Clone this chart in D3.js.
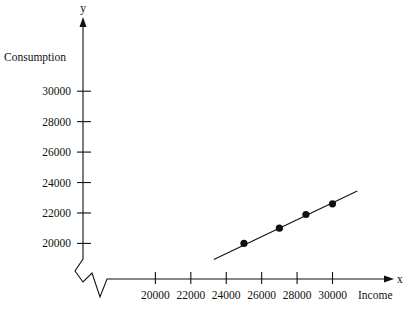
<!DOCTYPE html>
<html lang="en">
<head>
    <meta charset="UTF-8">
    <script src="https://d3js.org/d3.v7.min.js"></script>
    <title>Consumption vs Income</title>
    <style>
        body { margin: 0; background: #fff; }
        text { font-family: "Liberation Serif", "Times New Roman", serif; font-size: 11.5px; fill: #111; }
    </style>
</head>
<body>
    <svg width="420" height="324" id="chart" xmlns="http://www.w3.org/2000/svg"></svg>
    <script type="text/javascript">
      // data
      var incomeTicks = [20000, 22000, 24000, 26000, 28000, 30000];
      var consumptionTicks = [20000, 22000, 24000, 26000, 28000, 30000];
      var income = [25000, 27000, 28500, 30000];
      var consumption = [20000, 21000, 21900, 22600];
      var lineIncome = [23300, 31400];
      var lineConsumption = [18950, 23450];

      var svg = d3.select("#chart");
      var x = d3.scaleLinear().domain([20000, 30000]).range([155.4, 332.5]);
      var y = d3.scaleLinear().domain([20000, 30000]).range([243.4, 91.2]);

      var ox = 83, oy = 279;

      // y axis with break
      svg.append("path")
        .attr("d", "M" + ox + ",26 L" + ox + ",259 L75,271 L83,282 L92,273 L100,297 L107,279 L386," + oy)
        .attr("fill", "none").attr("stroke", "#111").attr("stroke-width", 1.1);
      svg.append("path").attr("d", "M" + ox + ",17 L" + (ox - 3.5) + ",27 L" + (ox + 3.5) + ",27 Z").attr("fill", "#111");
      svg.append("path").attr("d", "M394," + oy + " L384," + (oy - 3.5) + " L384," + (oy + 3.5) + " Z").attr("fill", "#111");

      // y ticks
      var yt = svg.append("g");
      yt.selectAll("line").data(consumptionTicks).join("line")
        .attr("x1", ox - 6).attr("x2", ox + 8)
        .attr("y1", d => y(d)).attr("y2", d => y(d))
        .attr("stroke", "#111").attr("stroke-width", 1.1);
      yt.selectAll("text").data(consumptionTicks).join("text")
        .attr("x", 71).attr("y", d => y(d)).attr("dy", "0.35em")
        .attr("text-anchor", "end").text(d => d);

      // x ticks
      var xt = svg.append("g");
      xt.selectAll("line").data(incomeTicks).join("line")
        .attr("x1", d => x(d)).attr("x2", d => x(d))
        .attr("y1", oy - 7).attr("y2", oy + 5)
        .attr("stroke", "#111").attr("stroke-width", 1.1);
      xt.selectAll("text").data(incomeTicks).join("text")
        .attr("x", d => x(d)).attr("y", 299)
        .attr("text-anchor", "middle").text(d => d);

      // labels
      svg.append("text").attr("x", ox).attr("y", 12).attr("text-anchor", "middle").text("y");
      svg.append("text").attr("x", 4).attr("y", 61).text("Consumption");
      svg.append("text").attr("x", 397).attr("y", 283).text("x");
      svg.append("text").attr("x", 358).attr("y", 299).text("Income");

      // consumption line and points
      svg.append("line")
        .attr("x1", x(lineIncome[0])).attr("y1", y(lineConsumption[0]))
        .attr("x2", x(lineIncome[1])).attr("y2", y(lineConsumption[1]))
        .attr("stroke", "#111").attr("stroke-width", 1.1);
      svg.selectAll("circle").data(income).join("circle")
        .attr("cx", d => x(d)).attr("cy", (d, i) => y(consumption[i]))
        .attr("r", 3.6).attr("fill", "#111");
    </script>
</body>
</html>
